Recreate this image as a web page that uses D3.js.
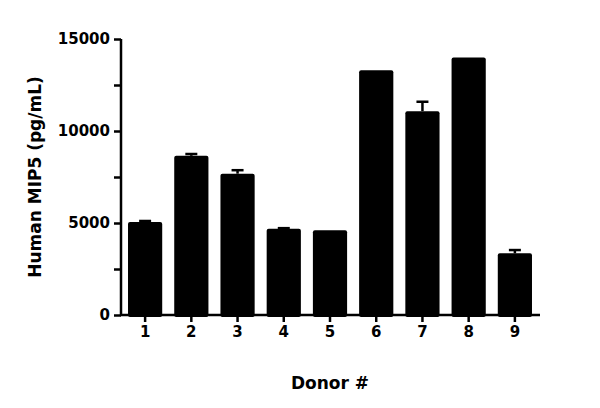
<!DOCTYPE html>
<html><head><meta charset="utf-8">
<script src="https://cdn.jsdelivr.net/npm/d3@7"></script>
<style>body{margin:0;background:#fff}text{font-family:"DejaVu Sans",sans-serif;font-weight:bold}</style>
</head><body><div id="chart"></div>
<script>
const donors = ["1","2","3","4","5","6","7","8","9"];
const means = [5050, 8650, 7680, 4690, 4600, 13300, 11080, 14000, 3350];
const errors = [60, 100, 190, 30, 0, 0, 510, 0, 180];
const yTicks = [0, 5000, 10000, 15000];

const width = 600, height = 408;
const svg = d3.select("#chart").append("svg").attr("width", width).attr("height", height);

const x = d3.scaleBand().domain(donors).range([122, 538]).paddingInner(0.26).paddingOuter(0.13);
const y = d3.scaleLinear().domain([0, 15000]).range([315, 39]);

// error bars (upper only)
donors.forEach((d, i) => {
  if (!errors[i]) return;
  const cx = x(d) + x.bandwidth() / 2;
  svg.append("line").attr("x1", cx).attr("x2", cx)
    .attr("y1", y(means[i])).attr("y2", y(means[i] + errors[i]))
    .attr("stroke", "black").attr("stroke-width", 2.5);
  svg.append("line").attr("x1", cx - 6).attr("x2", cx + 6)
    .attr("y1", y(means[i] + errors[i])).attr("y2", y(means[i] + errors[i]))
    .attr("stroke", "black").attr("stroke-width", 2.5);
});

svg.selectAll("rect.bar").data(donors).enter().append("rect")
  .attr("x", d => x(d)).attr("width", x.bandwidth())
  .attr("y", (d, i) => y(means[i])).attr("height", (d, i) => 315 - y(means[i]) + 2)
  .attr("rx", 2).attr("fill", "black");

// y axis with minor ticks
const yAxis = svg.append("g").attr("transform", "translate(121,0)")
  .call(d3.axisLeft(y).tickValues(d3.range(0, 15001, 2500)).tickSize(7).tickFormat(d => yTicks.includes(d) ? d : ""));
const xAxis = svg.append("g").attr("transform", "translate(0,315)")
  .call(d3.axisBottom(x).tickSize(7).tickSizeOuter(0));
[yAxis, xAxis].forEach(g => {
  g.selectAll("path,line").attr("stroke", "black").attr("stroke-width", 2.5);
  g.selectAll("text").attr("fill", "black").style("font-size", "15px");
});
yAxis.select(".domain").attr("d", "M0,315V39");
xAxis.select(".domain").attr("d", "M120,0H540");
yAxis.selectAll("text").attr("x", -11);
xAxis.selectAll("text").attr("y", 11);

svg.append("text").attr("x", 330).attr("y", 389).attr("text-anchor", "middle")
  .style("font-size", "17px").text("Donor #");
svg.append("text").attr("transform", "translate(41,177) rotate(-90)").attr("text-anchor", "middle")
  .style("font-size", "17px").text("Human MIP5 (pg/mL)");
</script></body></html>
